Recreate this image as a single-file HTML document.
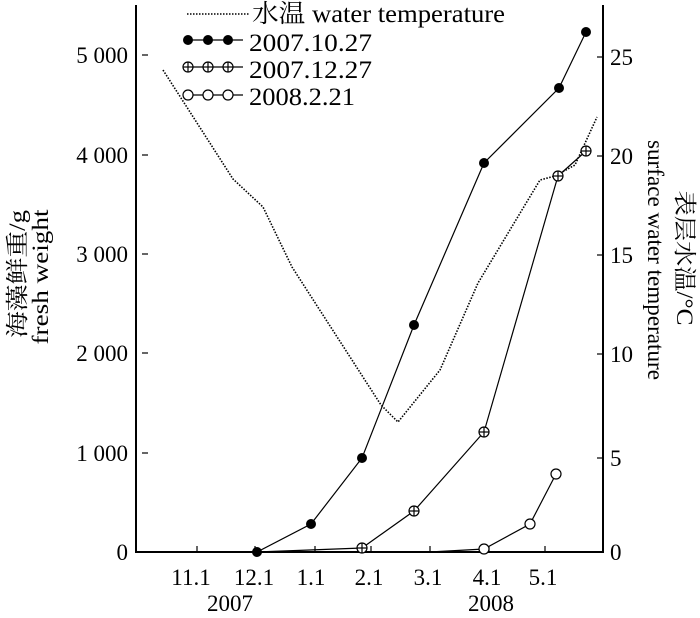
<!DOCTYPE html>
<html><head><meta charset="utf-8"><style>
body{margin:0;background:#fff}
svg{font-family:"Liberation Serif","Noto Serif CJK SC",serif}
</style></head><body>
<svg width="700" height="613" viewBox="0 0 700 613" xmlns="http://www.w3.org/2000/svg">
<g stroke="#000" fill="none">
<line x1="136" y1="5" x2="136" y2="553" stroke-width="2"/>
<line x1="135" y1="552" x2="604" y2="552" stroke-width="2"/>
<line x1="603" y1="5" x2="603" y2="553" stroke-width="2"/>
<g stroke-width="1.2">
<line x1="142" y1="55" x2="148" y2="55"/><line x1="142" y1="155" x2="148" y2="155"/><line x1="142" y1="254" x2="148" y2="254"/><line x1="142" y1="353" x2="148" y2="353"/><line x1="142" y1="453" x2="148" y2="453"/>
<line x1="597" y1="57" x2="603" y2="57"/><line x1="597" y1="156" x2="603" y2="156"/><line x1="597" y1="255" x2="603" y2="255"/><line x1="597" y1="354" x2="603" y2="354"/><line x1="597" y1="458" x2="603" y2="458"/>
<line x1="197" y1="546" x2="197" y2="552"/><line x1="255" y1="546" x2="255" y2="552"/><line x1="315" y1="546" x2="315" y2="552"/><line x1="371" y1="546" x2="371" y2="552"/><line x1="430" y1="546" x2="430" y2="552"/><line x1="489" y1="546" x2="489" y2="552"/><line x1="545" y1="546" x2="545" y2="552"/>
</g>
<polyline stroke-width="1.6" stroke-dasharray="1.5,1.5" points="163,70 233,179 263,207 292,267 381,405 398,422 440,370 478,283 540,180 555,176 575,165 597,117"/>
<polyline stroke-width="1.2" points="197,552 257,552 311,524 362,458 414,325 484,163 559,88 586,32"/>
<polyline stroke-width="1.2" points="257,552 362,548 414,511 484,432 558,176 586,151"/>
<polyline stroke-width="1.2" points="362,552 430,552 484,549 530,524 556,474"/>
</g>
<g fill="#000">
<circle cx="257" cy="552" r="5"/><circle cx="311" cy="524" r="5"/><circle cx="362" cy="458" r="5"/><circle cx="414" cy="325" r="5"/><circle cx="484" cy="163" r="5"/><circle cx="559" cy="88" r="5"/><circle cx="586" cy="32" r="5"/>
</g>
<defs><g id="c"><circle cx="0" cy="0" r="5"/><line x1="-5" y1="0" x2="5" y2="0"/><line x1="0" y1="-5" x2="0" y2="5"/></g></defs>
<g fill="#fff" stroke="#000" stroke-width="1.2">
<use href="#c" x="362" y="548"/><use href="#c" x="414" y="511"/><use href="#c" x="484" y="432"/><use href="#c" x="558" y="176"/><use href="#c" x="586" y="151"/>
<circle cx="484" cy="549" r="5"/><circle cx="530" cy="524" r="5"/><circle cx="556" cy="474" r="5"/>
</g>
<!-- legend -->
<g stroke="#000" fill="none">
<line x1="187" y1="14" x2="250" y2="14" stroke-width="1.6" stroke-dasharray="1.5,1.5"/>
<line x1="188" y1="40" x2="243" y2="40" stroke-width="1.2"/>
<line x1="188" y1="67" x2="243" y2="67" stroke-width="1.2"/>
<line x1="188" y1="95" x2="243" y2="95" stroke-width="1.2"/>
</g>
<g fill="#000"><circle cx="188" cy="40" r="5"/><circle cx="208" cy="40" r="5"/><circle cx="228" cy="40" r="5"/></g>
<g fill="#fff" stroke="#000" stroke-width="1.2">
<use href="#c" x="188" y="67"/><use href="#c" x="208" y="67"/><use href="#c" x="228" y="67"/>
<circle cx="188" cy="95" r="5"/><circle cx="208" cy="95" r="5"/><circle cx="228" cy="95" r="5"/>
</g>
<g font-size="25" fill="#000">
<text x="252" y="22" textLength="253" lengthAdjust="spacingAndGlyphs">水温 water temperature</text>
<text x="249" y="51" textLength="123" lengthAdjust="spacingAndGlyphs">2007.10.27</text>
<text x="249" y="78" textLength="123" lengthAdjust="spacingAndGlyphs">2007.12.27</text>
<text x="249" y="105" textLength="106" lengthAdjust="spacingAndGlyphs">2008.2.21</text>
</g>
<g font-size="23" fill="#000" text-anchor="end">
<text x="128" y="63">5 000</text><text x="128" y="163">4 000</text><text x="128" y="262">3 000</text><text x="128" y="361">2 000</text><text x="128" y="461">1 000</text><text x="128" y="560">0</text>
</g>
<g font-size="23" fill="#000">
<text x="610" y="65">25</text><text x="610" y="164">20</text><text x="610" y="263">15</text><text x="610" y="362">10</text><text x="610" y="466">5</text><text x="610" y="560">0</text>
</g>
<g font-size="23" fill="#000" text-anchor="middle">
<text x="191" y="585">11.1</text><text x="254" y="585">12.1</text><text x="311" y="585">1.1</text><text x="369" y="585">2.1</text><text x="428" y="585">3.1</text><text x="487" y="585">4.1</text><text x="543" y="585">5.1</text>
<text x="230" y="611">2007</text><text x="491" y="611">2008</text>
</g>
<g font-size="23" fill="#000" text-anchor="middle">
<text transform="translate(25,274) rotate(-90)" textLength="128" lengthAdjust="spacingAndGlyphs">海藻鲜重/g</text>
<text transform="translate(48,277) rotate(-90)" textLength="135" lengthAdjust="spacingAndGlyphs">fresh weight</text>
<text transform="translate(648,260) rotate(90)" textLength="240" lengthAdjust="spacingAndGlyphs">surface water temperature</text>
<text transform="translate(677,258) rotate(90)" textLength="135" lengthAdjust="spacingAndGlyphs">表层水温/°C</text>
</g>
</svg>
</body></html>
